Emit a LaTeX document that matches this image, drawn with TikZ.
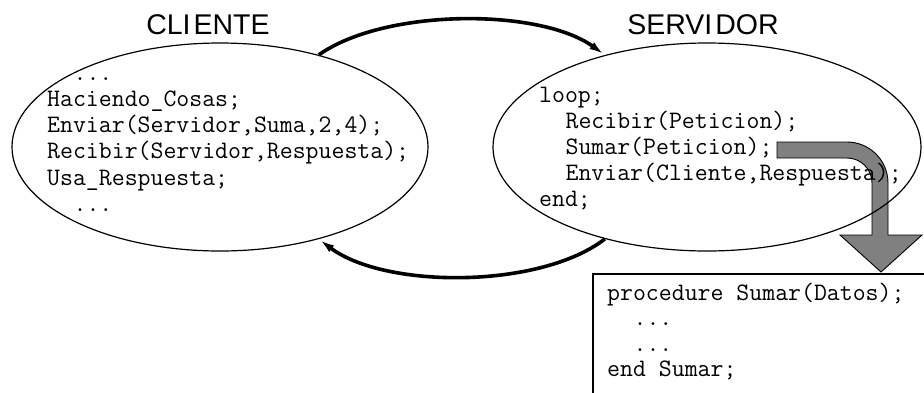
\documentclass[tikz,border=0pt]{standalone}
\usepackage{fontspec}
\setmainfont{Liberation Sans}
\usetikzlibrary{shapes.geometric,arrows.meta}
\definecolor{arrowgray}{RGB}{128,128,128}
\newcommand{\codeindent}{\hspace*{26.4pt}}
\begin{document}
\begin{tikzpicture}[x=1pt,y=-1pt,
  code/.style={font=\fontsize{25.1}{26}\selectfont\ttfamily, anchor=base west, inner sep=0pt},
  title/.style={font=\fontsize{28.5}{32}\selectfont, anchor=base, inner sep=0pt},
  procell/.style={draw, ellipse, line width=1.2pt, minimum height=208pt, inner sep=0pt},
  flow/.style={line width=3.6pt, -{Latex[length=16pt,width=8pt]}},
  blockarrow/.style={fill=arrowgray, draw=black, line width=0.9pt, line join=miter},
  codebox/.style={draw, line width=1.5pt, anchor=north west, minimum width=360pt, minimum height=150pt, inner sep=0pt}
]
\useasboundingbox (0,0) rectangle (924,392);
\clip (0,0) rectangle (924,392);

% block arrow (under everything)
\draw[blockarrow] (777,142) -- (847,142) arc[start angle=-90,end angle=0,radius=41]
  -- (888,235) -- (922,235) -- (881,272) -- (840,235) -- (872,235) -- (872,183)
  arc[start angle=0,end angle=-90,radius=25] -- (777,158) -- cycle;

% ellipses
\node[procell, minimum width=416pt] (cli) at (220,147) {};
\node[procell, minimum width=428pt] (srv) at (707,147) {};

% titles
\node[title] (tcli) at (208,34) {CLI\kern3pt ENTE};
\node[title] (tsrv) at (703,34) {SERVI\kern3pt DOR};

% client code
\node[code] (c1) at (47,80)  {\codeindent...};
\node[code] (c2) at (47,106) {Haciendo\_Cosas;};
\node[code] (c3) at (47,132) {Enviar(Servidor,Suma,2,4);};
\node[code] (c4) at (47,158) {Recibir(Servidor,Respuesta);};
\node[code] (c5) at (47,185) {Usa\_Respuesta;};
\node[code] (c6) at (47,211) {\codeindent...};

% server code
\node[code] (s1) at (539,102) {loop;};
\node[code] (s2) at (539,128) {\codeindent Recibir(Peticion);};
\node[code] (s3) at (539,154) {\codeindent Sumar(Peticion);};
\node[code] (s4) at (539,180) {\codeindent Enviar(Cliente,Respuesta);};
\node[code] (s5) at (539,206) {end;};

% procedure box
\node[codebox] (sumbox) at (592,273) {};
\node[code] (p1) at (607,300)   {procedure Sumar(Datos);};
\node[code] (p2) at (607,325.5) {\codeindent...};
\node[code] (p3) at (607,351)   {\codeindent...};
\node[code] (p4) at (607,376.5) {end Sumar;};

% message arrows
\draw[flow] (cli.43) .. controls (385,8) and (540,8) .. (srv.138);
\draw[flow] (srv.222) .. controls (540,289) and (385,289) .. (cli.-43);
\end{tikzpicture}
\end{document}
